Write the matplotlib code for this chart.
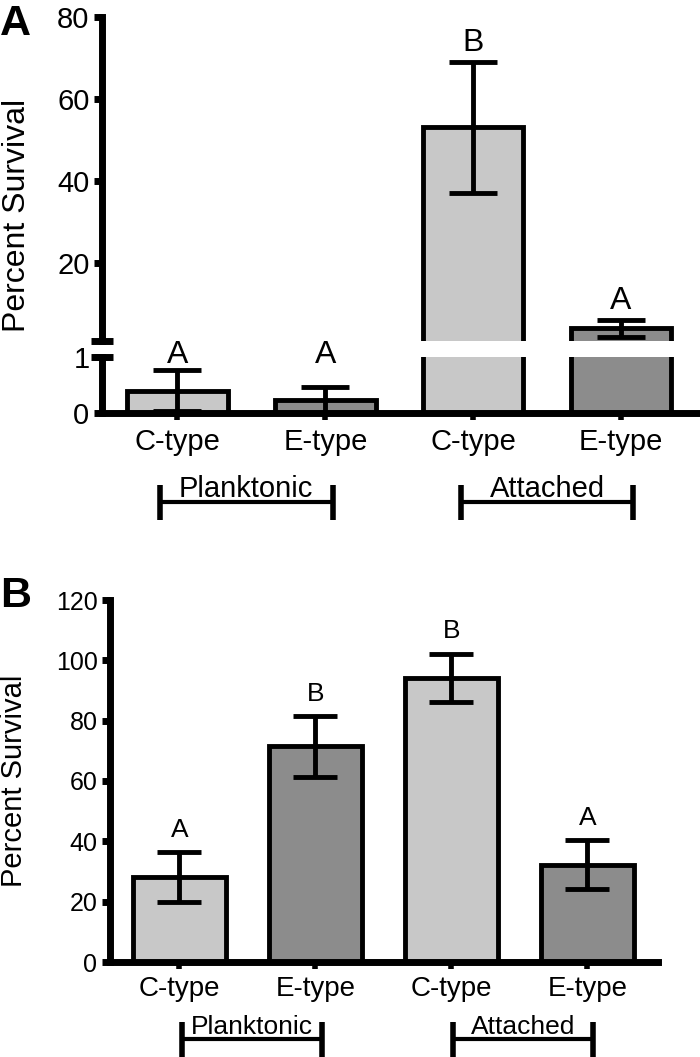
import matplotlib
matplotlib.use("Agg")
import matplotlib.pyplot as plt
import matplotlib.transforms as mtransforms
import numpy as np

plt.rcParams['font.family'] = ['Liberation Sans', 'DejaVu Sans']

# data
categories = ['C-type', 'E-type', 'C-type', 'E-type']
groups = ['Planktonic', 'Attached']
bar_colors = ['#c8c8c8', '#8c8c8c', '#c8c8c8', '#8c8c8c']

# panel A (broken y axis)
surv_a = [0.40, 0.23, 53.1, 4.1]
err_a = [0.36, 0.23, 16.0, 2.1]
letters_a = ['A', 'A', 'B', 'A']

# panel B
surv_b = [28.2, 71.5, 94.2, 32.3]
err_b = [8.3, 10.1, 8.0, 8.2]
letters_b = ['A', 'B', 'B', 'A']

x = np.arange(len(categories))
W, H = 700, 1057
LW = 3.5


def draw_bars(ax, vals, errs, capsize, ylim):
    vals = np.asarray(vals)
    errs = np.asarray(errs)
    ax.bar(x, vals, width=0.68, color=bar_colors, edgecolor='black',
           linewidth=LW, zorder=2)
    # only the error bars that fall inside this axis segment
    keep = (vals + errs > ylim[0]) & (vals - errs < ylim[1])
    ax.errorbar(x[keep], vals[keep], yerr=errs[keep], fmt='none', ecolor='black',
                elinewidth=LW, capsize=capsize, capthick=LW, zorder=3)
    ax.set_xlim(-0.51, 3.52)
    ax.set_ylim(*ylim)


def style(ax, fs, show_bottom=True):
    for s in ['top', 'right']:
        ax.spines[s].set_visible(False)
    ax.spines['left'].set_linewidth(5)
    ax.spines['bottom'].set_linewidth(5)
    ax.spines['bottom'].set_visible(show_bottom)
    ax.tick_params(axis='y', direction='out', length=6, width=5,
                   labelsize=fs, pad=3)


def brackets(ax, fig, spans, y_line, y_top, y_bot, y_text, fs):
    trans = mtransforms.blended_transform_factory(ax.transData, fig.transFigure)
    for (x0, x1), name in zip(spans, groups):
        ax.plot([x0, x1], [y_line, y_line], color='black', lw=3,
                transform=trans, clip_on=False, solid_capstyle='butt')
        for xe in (x0, x1):
            ax.plot([xe, xe], [y_bot, y_top], color='black', lw=4,
                    transform=trans, clip_on=False, solid_capstyle='butt')
        ax.text((x0 + x1) / 2, y_text, name, transform=trans, ha='center',
                va='baseline', fontsize=fs)


fig = plt.figure(figsize=(W / 100, H / 100), dpi=100)

# ---- panel A ----
ax_top = fig.add_axes([102 / W, 1 - 341 / H, 596 / W, 324 / H])
ax_bot = fig.add_axes([102 / W, 1 - 413 / H, 596 / W, 56 / H])

draw_bars(ax_top, surv_a, err_a, 17, (1, 80))
draw_bars(ax_bot, surv_a, err_a, 17, (0, 1))

ax_top.set_yticks([20, 40, 60, 80])
ax_top.set_xticks([])
style(ax_top, 21, show_bottom=False)

ax_bot.set_yticks([0, 1])
ax_bot.set_xticks(x)
ax_bot.set_xticklabels(categories, fontsize=21)
style(ax_bot, 21)
ax_bot.tick_params(axis='x', direction='out', length=5, width=4, pad=6)

# break marks
ax_top.plot([-0.018, 0.018], [0, 0], transform=ax_top.transAxes, color='black',
            lw=5, clip_on=False, solid_capstyle='butt')
ax_bot.plot([-0.018, 0.018], [1, 1], transform=ax_bot.transAxes, color='black',
            lw=5, clip_on=False, solid_capstyle='butt')

for i, lab in enumerate(letters_a):
    top = surv_a[i] + err_a[i]
    if top > 1:
        ax_top.annotate(lab, xy=(x[i], top), xytext=(0, 8), textcoords='offset points',
                        ha='center', va='baseline', fontsize=23, annotation_clip=False)
    else:
        ax_bot.annotate(lab, xy=(x[i], 1), xytext=(0, -4), textcoords='offset points',
                        ha='center', va='baseline', fontsize=23, annotation_clip=False)

brackets(ax_bot, fig, [(-0.12, 1.05), (1.92, 3.08)],
         1 - 502 / H, 1 - 485 / H, 1 - 520 / H, 1 - 497 / H, 21)

fig.text(17 / W, 1 - 215 / H, 'Percent Survival', rotation=90, ha='center',
         va='center', fontsize=23)
fig.text(0, 1 - 35 / H, 'A', fontsize=31, fontweight='bold', va='baseline')

# ---- panel B ----
axb = fig.add_axes([110 / W, 1 - 962 / H, 548 / W, 362 / H])
draw_bars(axb, surv_b, err_b, 16, (0, 120))
axb.set_yticks(np.arange(0, 121, 20))
axb.set_xticks(x)
axb.set_xticklabels(categories, fontsize=20)
style(axb, 18)
axb.tick_params(axis='x', direction='out', length=5, width=4, pad=5)

for i, lab in enumerate(letters_b):
    axb.annotate(lab, xy=(x[i], surv_b[i] + err_b[i]), xytext=(0, 11),
                 textcoords='offset points', ha='center', va='baseline',
                 fontsize=19, annotation_clip=False)

brackets(axb, fig, [(0.02, 1.05), (2.01, 3.04)],
         1 - 1039 / H, 1 - 1022 / H, -0.01, 1 - 1034 / H, 19)

fig.text(14 / W, 1 - 781 / H, 'Percent Survival', rotation=90, ha='center',
         va='center', fontsize=21)
fig.text(0, 1 - 607 / H, 'B', fontsize=31, fontweight='bold', va='baseline')

fig.savefig('out.png', dpi=100)
plt.close(fig)
